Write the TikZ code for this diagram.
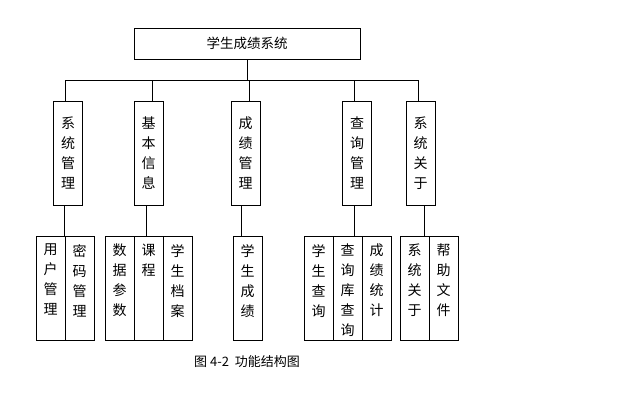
\documentclass[tikz,border=0pt]{standalone}
\usepackage{fontspec}
\newfontfamily\cjk{Noto Sans CJK SC}
\tikzset{
  topbox/.style={draw, thick, minimum width=226pt, minimum height=31pt, inner sep=0pt, font=\cjk\fontsize{13.5}{15}\selectfont},
  modbox/.style={draw, semithick, minimum width=29pt, minimum height=104pt, inner sep=0pt, align=center, font=\cjk\fontsize{14}{20}\selectfont},
  leafbox/.style={draw, semithick, minimum width=29pt, minimum height=104pt, inner sep=0pt},
  leaftext/.style={anchor=north, inner sep=0pt, align=center, font=\cjk\fontsize{14}{20}\selectfont},
  wire/.style={semithick}
}
\newcommand{\leaf}[3]{% name, x, text
  \node[leafbox] (#1) at (#2,288) {};
  \begin{scope}
    \clip (#1.south west) rectangle (#1.north east);
    \node[leaftext] (#1t) at (#2,244) {#3};
  \end{scope}
}
\begin{document}
\begin{tikzpicture}[x=1pt,y=-1pt]
  \useasboundingbox (0,0) rectangle (632,403);
  % top
  \node[topbox] (root) at (247,43.5) {学生成绩系统};
  % modules
  \node[modbox] (sys)  at (68,153)  {系\\统\\管\\理};
  \node[modbox] (base) at (148.5,153) {基\\本\\信\\息};
  \node[modbox] (score) at (245.5,153) {成\\绩\\管\\理};
  \node[modbox] (query) at (357,153) {查\\询\\管\\理};
  \node[modbox] (about) at (420.5,153) {系\\统\\关\\于};
  % leaves
  \leaf{user}{50.5}{用\\户\\管\\理}
  \leaf{pwd}{79.5}{密\\码\\管\\理}
  \leaf{param}{119.5}{数\\据\\参\\数}
  \leaf{course}{148.5}{课\\程}
  \leaf{file}{177.5}{学\\生\\档\\案}
  \leaf{grade}{247.5}{学\\生\\成\\绩}
  \leaf{stu}{318.5}{学\\生\\查\\询}
  \leaf{db}{347.5}{查\\询\\库\\查\\询}
  \leaf{stat}{376.5}{成\\绩\\统\\计}
  \leaf{sabout}{414.5}{系\\统\\关\\于}
  \leaf{help}{443.5}{帮\\助\\文\\件}
  % connectors
  \coordinate (bus) at (247,80);
  \draw[wire] (root.south) -- (bus);
  \draw[wire] (65,80) -- (418,80);
  \draw[wire] (sys.north -| 65,0) -- (65,80);
  \draw[wire] (base.north -| 152,0) -- (152,80);
  \draw[wire] (score.north -| 249,0) -- (249,80);
  \draw[wire] (query.north -| 354,0) -- (354,80);
  \draw[wire] (about.north -| 418,0) -- (418,80);
  \draw[wire] (sys.south -| pwd.north west) -- (pwd.north west);
  \draw[wire] (base.south -| 146,0) -- (course.north -| 146,0);
  \draw[wire] (score.south -| 241,0) -- (grade.north -| 241,0);
  \draw[wire] (query.south -| 354,0) -- (db.north -| 354,0);
  \draw[wire] (about.south -| 424,0) -- (sabout.north -| 424,0);
  % caption
  \node[font=\cjk\fontsize{13}{15}\selectfont] (cap) at (247,362) {图 4-2 \ 功能结构图};
\end{tikzpicture}
\end{document}
